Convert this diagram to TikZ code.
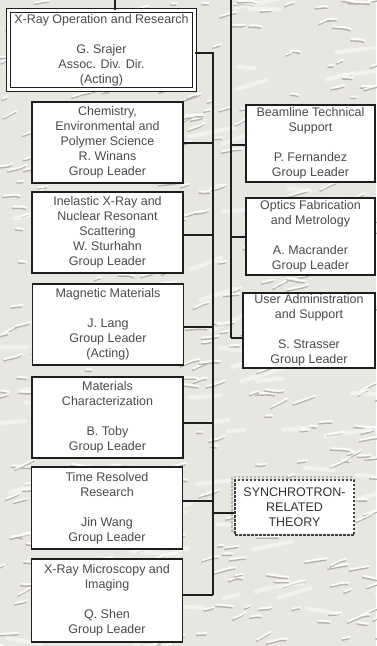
\documentclass[tikz,border=0pt]{standalone}
\usepackage{fontspec}
\setmainfont{Liberation Sans}
\definecolor{bgc}{HTML}{E8E6E1}
\definecolor{streakc}{HTML}{B4B1AA}
\definecolor{txt}{HTML}{4A4A4A}
\definecolor{lnc}{HTML}{1E1E1E}
\begin{document}
\begin{tikzpicture}[x=1pt,y=-1pt,
  streak/.style={streakc,line width=1.4pt,line cap=round},
  hilite/.style={white,line width=1.8pt,line cap=round,opacity=0.85},
  orgbox/.style={draw=lnc,line width=1.3pt,fill=white,align=center,
    font=\fontsize{12.5}{15}\selectfont,text=txt,inner sep=0pt},
  leftbox/.style={orgbox,minimum width=151pt},
  rightbox/.style={orgbox,minimum width=129pt},
  link/.style={draw=lnc,line width=1.2pt}]
\useasboundingbox (0,0) rectangle (376,646);
\fill[bgc] (0,0) rectangle (376,646);
% marble-like background texture
\pgfmathsetseed{11}
\foreach \i in {1,...,420}{
  \pgfmathsetmacro{\xx}{rnd*390-7}
  \pgfmathsetmacro{\yy}{rnd*660-7}
  \pgfmathsetmacro{\ll}{5+rnd*18}
  \pgfmathsetmacro{\aa}{-30+rnd*40}
  \pgfmathsetmacro{\bb}{\aa+25-rnd*50}
  \draw[streak] (\xx,\yy) .. controls +(\aa:\ll/3) and +(\bb+180:\ll/3) .. ++(\aa:\ll);
  \draw[hilite] (\xx+1,\yy-2) .. controls +(\aa:\ll/3) and +(\bb+180:\ll/3) .. ++(\aa:\ll);
}
\foreach \i in {1,...,90}{
  \pgfmathsetmacro{\xx}{rnd*390-7}
  \pgfmathsetmacro{\yy}{rnd*660-7}
  \pgfmathsetmacro{\ll}{15+rnd*35}
  \pgfmathsetmacro{\aa}{-25+rnd*35}
  \draw[white,line width=4pt,line cap=round,opacity=0.45] (\xx,\yy) -- ++(\aa:\ll);
}

% bus coordinates
\coordinate (topin) at (115,0);
\coordinate (rtop) at (231,0);
\coordinate (rbot) at (231,338);
\coordinate (ltop) at (213,53);
\coordinate (lbot) at (213,595);

% top box
\node[orgbox,double=white,line width=1.2pt,double distance=3pt,
  minimum width=185.6pt,minimum height=78.6pt] (top) at (101.5,50)
  {X-Ray Operation and Research\\[15pt]G. Srajer\\Assoc. Div. Dir.\\(Acting)};

% left boxes
\node[leftbox,minimum height=81pt] (chem) at (107.5,142.5)
  {Chemistry,\\Environmental and\\Polymer Science\\R. Winans\\Group Leader};
\node[leftbox,minimum height=81pt] (inel) at (107.5,232.5)
  {Inelastic X-Ray and\\Nuclear Resonant\\Scattering\\W. Sturhahn\\Group Leader};
\node[leftbox,minimum height=81pt] (magn) at (108,324.5)
  {Magnetic Materials\\[15pt]J. Lang\\Group Leader\\(Acting)};
\node[leftbox,minimum height=81pt] (matc) at (107.5,417.5)
  {Materials\\Characterization\\[15pt]B. Toby\\Group Leader};
\node[leftbox,minimum height=82pt] (time) at (107,508)
  {Time Resolved\\Research\\[15pt]Jin Wang\\Group Leader};
\node[leftbox,minimum height=83pt] (xmic) at (107,600.5)
  {X-Ray Microscopy and\\Imaging\\[15pt]Q. Shen\\Group Leader};

% right boxes
\node[rightbox,minimum height=77pt] (beam) at (310.5,143.5)
  {Beamline Technical\\Support\\[15pt]P. Fernandez\\Group Leader};
\node[rightbox,minimum height=77pt] (opti) at (310.5,236.5)
  {Optics Fabrication\\and Metrology\\[15pt]A. Macrander\\Group Leader};
\node[orgbox,minimum width=132pt,minimum height=75pt] (user) at (309,330.5)
  {User Administration\\and Support\\[15pt]S. Strasser\\Group Leader};

% synchrotron theory (dashed, with shadow)
\draw[gray!55,line width=1.6pt,dash pattern=on 2.5pt off 1.5pt]
  (232,477) rectangle (351,532);
\node[draw=black!75,line width=1.5pt,dash pattern=on 2.5pt off 1.5pt,
  fill=white,align=center,font=\fontsize{12.5}{15}\selectfont,text=black!80,
  inner sep=0pt,minimum width=119pt,minimum height=55pt] (syn) at (294.5,507.5)
  {SYNCHROTRON-\\RELATED\\THEORY};

% connectors
\draw[link] (topin) -- (topin |- top.north);
\draw[link] (top.east |- ltop) -- (ltop) -- (lbot);
\draw[link] (rtop) -- (rbot);
\draw[link] (chem.east |- 0,143) -- (213,143);
\draw[link] (inel.east |- 0,235) -- (213,235);
\draw[link] (magn.east |- 0,327) -- (213,327);
\draw[link] (matc.east |- 0,423) -- (213,423);
\draw[link] (time.east |- 0,501) -- (213,501);
\draw[link] (xmic.east |- lbot) -- (lbot);
\draw[link] (231,145) -- (beam.west |- 0,145);
\draw[link] (231,237) -- (opti.west |- 0,237);
\draw[link] (rbot) -- (user.west |- rbot);
\draw[link] (213,513) -- (syn.west |- 0,513);
\end{tikzpicture}
\end{document}
